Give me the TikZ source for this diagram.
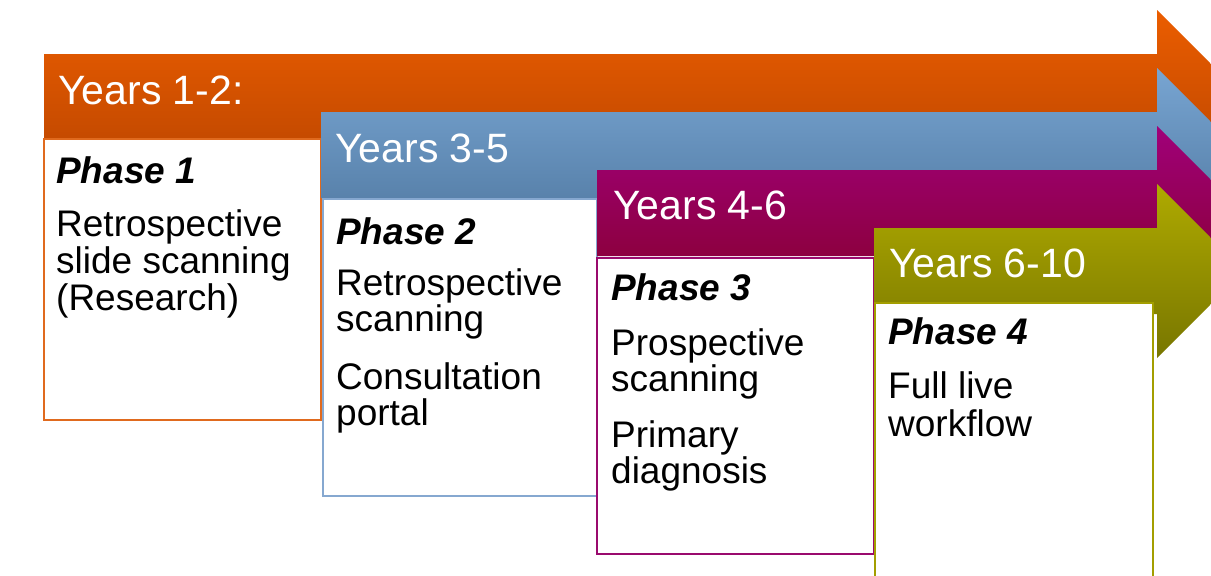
\documentclass[tikz,border=0pt]{standalone}
\usepackage{fontspec}
\setmainfont{Liberation Sans}
\definecolor{orTop}{HTML}{EB5D00}
\definecolor{orBot}{HTML}{B84400}
\definecolor{orLine}{HTML}{E06A1E}
\definecolor{blTop}{HTML}{78A5D2}
\definecolor{blBot}{HTML}{4E769E}
\definecolor{blLine}{HTML}{86A8D0}
\definecolor{mgTop}{HTML}{A0007A}
\definecolor{mgBot}{HTML}{86002C}
\definecolor{mgLine}{HTML}{9A0A6E}
\definecolor{olTop}{HTML}{AFAA00}
\definecolor{olBot}{HTML}{787600}
\definecolor{olLine}{HTML}{A39E00}
% one timeline band: start x, top y of the shaft, top and bottom colours
\newcommand\bandarrow[4]{%
  \path[top color=#3, bottom color=#4]
    (#1,#2) -- (1157,#2) -- (1157,#2-44) -- (1244,#2+43)
    -- (1157,#2+130) -- (1157,#2+86) -- (#1,#2+86) -- cycle;}
\begin{document}
\begin{tikzpicture}[x=1pt,y=-1pt,
  hdr/.style={anchor=base west, text=white, inner sep=0pt,
    font=\fontsize{41}{41}\selectfont},
  ttl/.style={anchor=base west, inner sep=0pt,
    font=\fontsize{37}{37}\selectfont\bfseries\itshape},
  txt/.style={anchor=base west, inner sep=0pt,
    font=\fontsize{37}{37}\selectfont},
  phasebox/.style={line width=2pt, fill=white}]
\useasboundingbox (0,0) rectangle (1211,576);
\clip (0,0) rectangle (1211,576);

% Phase 1
\bandarrow{44}{54}{orTop}{orBot}
\draw[phasebox, draw=orLine] (44,139) rectangle (321,420);
\node[hdr] (y1) at (58,104) {Years 1-2:};
\node[ttl] (t1) at (56,183) {Phase 1};
\node[txt] (a1) at (56,236) {Retrospective};
\node[txt] (b1) at (56,273) {slide scanning};
\node[txt] (c1) at (56,310) {(Research)};

% Phase 2
\bandarrow{321}{112}{blTop}{blBot}
\draw[phasebox, draw=blLine] (323,199) rectangle (597,496);
\node[hdr] (y2) at (335,162) {Years 3-5};
\node[ttl] (t2) at (336,244) {Phase 2};
\node[txt] (a2) at (336,295) {Retrospective};
\node[txt] (b2) at (336,331) {scanning};
\node[txt] (c2) at (336,389) {Consultation};
\node[txt] (d2) at (336,425) {portal};

% Phase 3
\bandarrow{597}{170}{mgTop}{mgBot}
\draw[phasebox, draw=mgLine] (597,258) rectangle (874,554);
\node[hdr] (y3) at (613,219) {Years 4-6};
\node[ttl] (t3) at (611,300) {Phase 3};
\node[txt] (a3) at (611,355) {Prospective};
\node[txt] (b3) at (611,391) {scanning};
\node[txt] (c3) at (611,447) {Primary};
\node[txt] (d3) at (611,483) {diagnosis};

% Phase 4
\bandarrow{874}{228}{olTop}{olBot}
\draw[phasebox, draw=olLine] (875,303) rectangle (1153,600);
\node[hdr] (y4) at (889,277) {Years 6-10};
\node[ttl] (t4) at (888,344) {Phase 4};
\node[txt] (a4) at (888,398) {Full live};
\node[txt] (b4) at (888,436) {workflow};
\end{tikzpicture}
\end{document}
